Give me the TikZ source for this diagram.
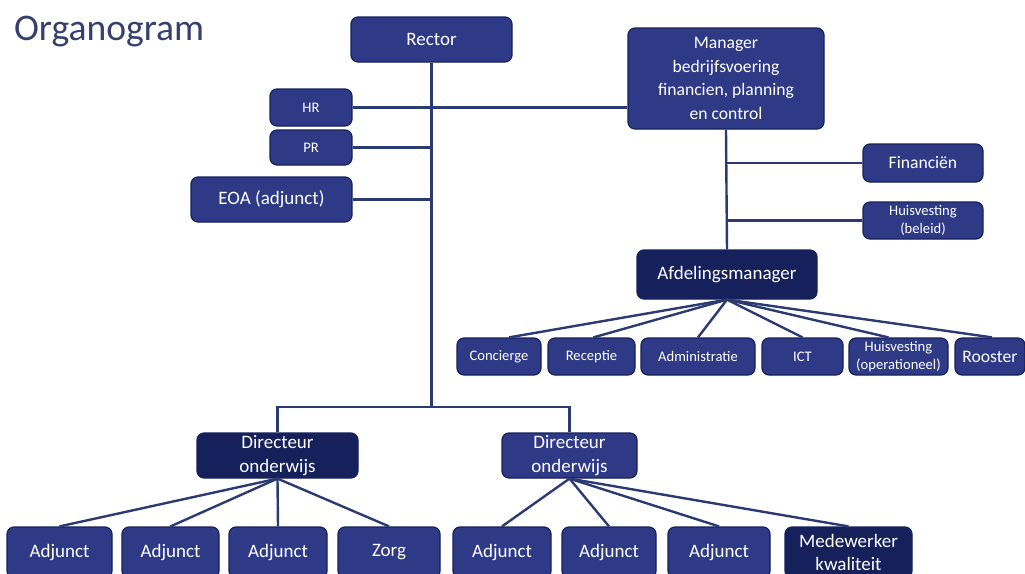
\documentclass[tikz,border=0pt]{standalone}
\usepackage{fontspec}
\setmainfont{Carlito}
\usepackage{tikz}
\usetikzlibrary{calc}
\definecolor{boxblue}{HTML}{2E3A86}
\definecolor{darkblue}{HTML}{16215C}
\definecolor{linkblue}{HTML}{2C3A72}
\definecolor{titleblue}{HTML}{34406E}

\begin{document}
\begin{tikzpicture}[
x=0.5pt, y=-0.5pt,
OrgBox/.style={draw=darkblue, fill=boxblue, text=white, rounded corners=3.5pt, inner sep=0pt, align=center, line width=0.6pt, font=\fontsize{9.5}{11.6}\selectfont},
DarkBox/.style={OrgBox, fill=darkblue},
MidBox/.style={OrgBox, font=\fontsize{8.8}{11.7}\selectfont},
SmallBox/.style={OrgBox, font=\fontsize{7.3}{8.8}\selectfont},
Links/.style={draw=linkblue, line width=1.2pt}
]
\useasboundingbox (0,0) rectangle (1025,574);
\clip (0,0) rectangle (1025,574);

\node[anchor=base west, text=titleblue, font=\fontsize{18.8}{22}\selectfont] (title) at (7,40) {Organogram};

% top of the tree
\node[OrgBox, minimum width=80.5pt, minimum height=22.5pt] (rector) at (431.5,39.5) {Rector};
\node[SmallBox, minimum width=41pt, minimum height=18.5pt] (hr) at (311,107.5) {HR};
\node[SmallBox, minimum width=41pt, minimum height=17.5pt] (pr) at (311,147.5) {PR};
\node[OrgBox, minimum width=80.5pt, minimum height=22.5pt] (eoa) at (271.5,199.5) {EOA (adjunct)};
\node[MidBox, minimum width=98pt, minimum height=50.5pt] (manager) at (726,78.5) {Manager\\bedrijfsvoering\\financien, planning\\en control};
\node[MidBox, minimum width=60pt, minimum height=19pt] (fin) at (923,163) {Financiën};
\node[SmallBox, minimum width=60pt, minimum height=18.5pt] (huis) at (923,220.5) {Huisvesting\\(beleid)};
\node[DarkBox, minimum width=90pt, minimum height=24.5pt] (afd) at (727,274.5) {Afdelingsmanager};

% afdelingen
\node[SmallBox, minimum width=42pt, minimum height=18.5pt] (conc) at (499,356.5) {Concierge};
\node[SmallBox, minimum width=43.5pt, minimum height=18.5pt] (rec) at (591.5,356.5) {Receptie};
\node[SmallBox, minimum width=57pt, minimum height=18.5pt] (adm) at (698,356.5) {Administratie};
\node[SmallBox, minimum width=40.5pt, minimum height=18.5pt] (ict) at (802.5,356.5) {ICT};
\node[SmallBox, minimum width=49.5pt, minimum height=18.5pt] (huisop) at (898.5,356.5) {Huisvesting\\(operationeel)};
\node[MidBox, minimum width=35pt, minimum height=18.5pt] (roost) at (990,356.5) {Rooster};

% onderwijs
\node[DarkBox, minimum width=80.5pt, minimum height=22.5pt] (dir1) at (277.5,455.5) {Directeur\\onderwijs};
\node[OrgBox, minimum width=67.5pt, minimum height=22.5pt] (dir2) at (569.5,455.5) {Directeur\\onderwijs};

\node[OrgBox, minimum width=52.5pt, minimum height=25.5pt] (adj1) at (59.5,552.5) {Adjunct};
\node[OrgBox, minimum width=48.5pt, minimum height=25.5pt] (adj2) at (170.5,552.5) {Adjunct};
\node[OrgBox, minimum width=49pt, minimum height=25.5pt] (adj3) at (278,552.5) {Adjunct};
\node[OrgBox, minimum width=51pt, minimum height=25.5pt] (zorg) at (389,552.5) {Zorg};
\node[OrgBox, minimum width=49pt, minimum height=25.5pt] (adj4) at (502,552.5) {Adjunct};
\node[OrgBox, minimum width=47pt, minimum height=25.5pt] (adj5) at (609,552.5) {Adjunct};
\node[OrgBox, minimum width=51pt, minimum height=25.5pt] (adj6) at (719,552.5) {Adjunct};
\node[DarkBox, minimum width=63.5pt, minimum height=25.5pt] (mdw) at (848.5,552.5) {Medewerker\\kwaliteit};

\coordinate (split) at (431.5,407);

\draw[Links] (rector.south) -- (split);
\draw[Links] (hr.east) -- (hr.east -| manager.west);
\draw[Links] (pr.east) -- (pr.east -| rector.south);
\draw[Links] (eoa.east) -- (eoa.east -| rector.south);
\draw[Links] (dir1.north) |- (split) -| (dir2.north);

\draw[Links] (manager.south) -- (afd.north);
\draw[Links] (fin.west) -- (fin.west -| manager.south);
\draw[Links] (huis.west) -- (huis.west -| manager.south);

\foreach \n/\dx in {conc/5pt, rec/1pt, adm/0pt, ict/0pt, huisop/-5pt, roost/1pt}
  \draw[Links] (afd.south) -- ([xshift=\dx]\n.north);

\foreach \n in {adj1,adj2,adj3,zorg}
  \draw[Links] (dir1.south) -- (\n.north);
\foreach \n in {adj4,adj5,adj6,mdw}
  \draw[Links] (dir2.south) -- (\n.north);

\end{tikzpicture}
\end{document}
